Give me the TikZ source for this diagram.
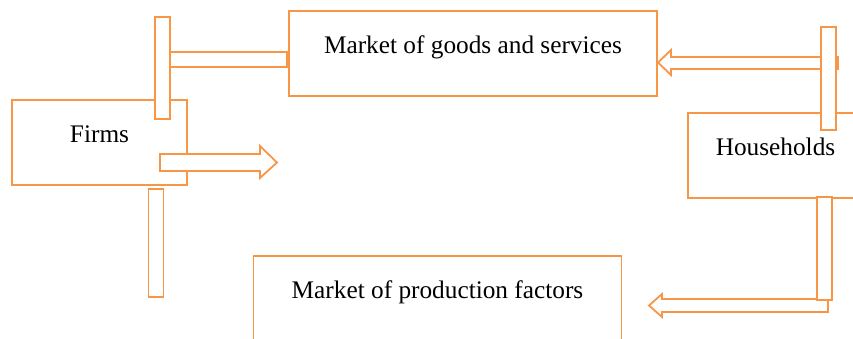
\documentclass[tikz,border=0pt]{standalone}
\usepackage{fontspec}
\setmainfont{Liberation Serif}
\definecolor{accorange}{HTML}{F79646}

\begin{document}
\begin{tikzpicture}[x=1pt, y=-1pt]
        \tikzset{BoxStyle/.style={shape=rectangle, draw=accorange, line width=1.8pt,
            inner sep=0pt, text height=12pt, text depth=12pt,
            font=\fontsize{25.3}{30}\selectfont}}
        \tikzset{BarStyle/.style={shape=rectangle, draw=accorange, fill=white,
            line width=1.8pt, inner sep=0pt}}

        \clip (0,0) rectangle (853,338);

        \begin{scope}[BoxStyle/.append style={minimum width=175pt, minimum height=85pt}]
          \node[BoxStyle] (firms) at (99.5,142.5) {Firms};
          \node[BoxStyle] (house) at (775.5,155.5) {Households};
        \end{scope}
        \begin{scope}[BoxStyle/.append style={minimum width=368pt, minimum height=85pt}]
          \node[BoxStyle] (goods) at (473,53.5) {Market of goods and services};
          \node[BoxStyle] (factors) at (437.5,298.5) {Market of production factors};
        \end{scope}

        % block arrows
        \draw[BarStyle] (160,154) -- (260,154) -- (260,146) -- (277,162.5)
          -- (260,178) -- (260,171) -- (160,171) -- cycle;
        \draw[BarStyle] (838,57) -- (671,57) -- (671,50) -- (658,62.5)
          -- (671,75) -- (671,69) -- (838,69) -- cycle;
        \draw[BarStyle] (828,299) -- (662,299) -- (662,294) -- (649,305.5)
          -- (662,317) -- (662,312) -- (828,312) -- cycle;

        % bars
        \node[BarStyle, minimum width=15pt, minimum height=102pt] (firmsup) at (162.5,68) {};
        \node[BarStyle, minimum width=117pt, minimum height=15pt] (firmsgoods) at (228.5,59.5) {};
        \node[BarStyle, minimum width=15pt, minimum height=108pt] (firmsdown) at (156,243) {};
        \node[BarStyle, minimum width=15pt, minimum height=103pt] (houseup) at (828.5,78.5) {};
        \node[BarStyle, minimum width=15pt, minimum height=103pt] (housedown) at (824.5,248.5) {};
      \end{tikzpicture}
\end{document}
